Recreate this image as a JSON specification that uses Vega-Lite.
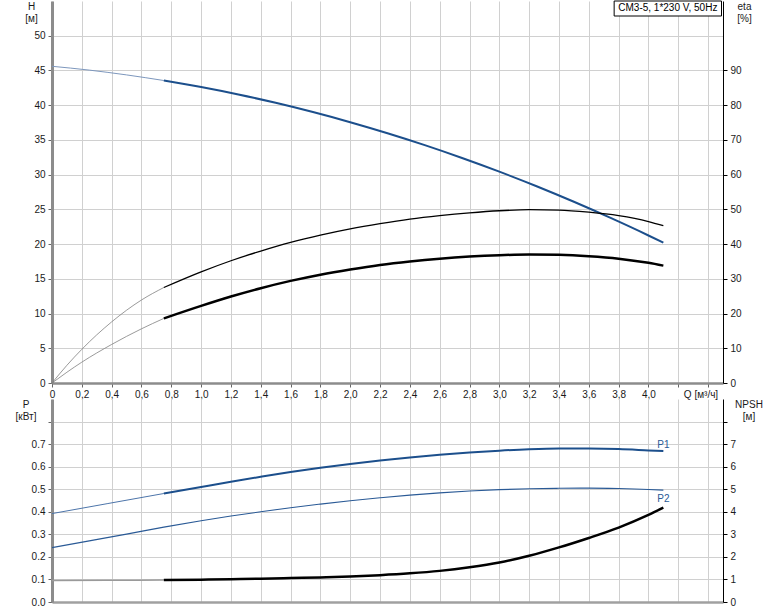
{
  "$schema": "https://vega.github.io/schema/vega-lite/v6.json",
  "autosize": {"type": "pad"},
  "padding": {"left": 15, "top": 0, "right": 5, "bottom": 5},
  "background": "white",
  "spacing": 0,
  "config": {
    "view": {"stroke": null},
    "axis": {
      "labelFont": "Liberation Sans",
      "labelFontSize": 10,
      "labelColor": "#1a1a1a",
      "titleFont": "Liberation Sans",
      "titleFontSize": 10,
      "titleFontWeight": "normal",
      "titleColor": "#1a1a1a",
      "gridColor": "#d0d0d0",
      "gridWidth": 1
    }
  },
  "datasets": {
    "top": [
      {"curve": "H", "part": "outside", "Q": 0, "value": 45.6},
      {"curve": "H", "part": "outside", "Q": 0.25, "value": 45.05},
      {"curve": "H", "part": "outside", "Q": 0.5, "value": 44.36},
      {"curve": "H", "part": "outside", "Q": 0.75, "value": 43.55},
      {"curve": "H", "part": "duty", "Q": 0.75, "value": 43.55},
      {"curve": "H", "part": "duty", "Q": 1.0, "value": 42.61},
      {"curve": "H", "part": "duty", "Q": 1.25, "value": 41.54},
      {"curve": "H", "part": "duty", "Q": 1.5, "value": 40.34},
      {"curve": "H", "part": "duty", "Q": 1.75, "value": 39.01},
      {"curve": "H", "part": "duty", "Q": 2.0, "value": 37.55},
      {"curve": "H", "part": "duty", "Q": 2.25, "value": 35.96},
      {"curve": "H", "part": "duty", "Q": 2.5, "value": 34.25},
      {"curve": "H", "part": "duty", "Q": 2.75, "value": 32.4},
      {"curve": "H", "part": "duty", "Q": 3.0, "value": 30.43},
      {"curve": "H", "part": "duty", "Q": 3.25, "value": 28.33},
      {"curve": "H", "part": "duty", "Q": 3.5, "value": 26.09},
      {"curve": "H", "part": "duty", "Q": 3.75, "value": 23.73},
      {"curve": "H", "part": "duty", "Q": 4.0, "value": 21.24},
      {"curve": "H", "part": "duty", "Q": 4.1, "value": 20.2},
      {"curve": "eta", "part": "outside", "Q": 0, "value": 0},
      {"curve": "eta", "part": "outside", "Q": 0.1, "value": 5.1},
      {"curve": "eta", "part": "outside", "Q": 0.2, "value": 9.7},
      {"curve": "eta", "part": "outside", "Q": 0.4, "value": 17.6},
      {"curve": "eta", "part": "outside", "Q": 0.6, "value": 23.9},
      {"curve": "eta", "part": "outside", "Q": 0.75, "value": 27.5},
      {"curve": "eta", "part": "duty", "Q": 0.75, "value": 27.5},
      {"curve": "eta", "part": "duty", "Q": 1.0, "value": 32.0},
      {"curve": "eta", "part": "duty", "Q": 1.2, "value": 35.2},
      {"curve": "eta", "part": "duty", "Q": 1.4, "value": 38.0},
      {"curve": "eta", "part": "duty", "Q": 1.6, "value": 40.5},
      {"curve": "eta", "part": "duty", "Q": 1.8, "value": 42.6},
      {"curve": "eta", "part": "duty", "Q": 2.0, "value": 44.4},
      {"curve": "eta", "part": "duty", "Q": 2.2, "value": 45.9},
      {"curve": "eta", "part": "duty", "Q": 2.4, "value": 47.2},
      {"curve": "eta", "part": "duty", "Q": 2.6, "value": 48.2},
      {"curve": "eta", "part": "duty", "Q": 2.8, "value": 49.0},
      {"curve": "eta", "part": "duty", "Q": 3.0, "value": 49.6},
      {"curve": "eta", "part": "duty", "Q": 3.2, "value": 49.9},
      {"curve": "eta", "part": "duty", "Q": 3.4, "value": 49.8},
      {"curve": "eta", "part": "duty", "Q": 3.6, "value": 49.2},
      {"curve": "eta", "part": "duty", "Q": 3.8, "value": 48.2},
      {"curve": "eta", "part": "duty", "Q": 4.0, "value": 46.5},
      {"curve": "eta", "part": "duty", "Q": 4.1, "value": 45.3},
      {"curve": "etaTotal", "part": "outside", "Q": 0, "value": 0},
      {"curve": "etaTotal", "part": "outside", "Q": 0.1, "value": 3.1},
      {"curve": "etaTotal", "part": "outside", "Q": 0.2, "value": 6.0},
      {"curve": "etaTotal", "part": "outside", "Q": 0.4, "value": 11.1},
      {"curve": "etaTotal", "part": "outside", "Q": 0.6, "value": 15.6},
      {"curve": "etaTotal", "part": "outside", "Q": 0.75, "value": 18.6},
      {"curve": "etaTotal", "part": "duty", "Q": 0.75, "value": 18.6},
      {"curve": "etaTotal", "part": "duty", "Q": 1.0, "value": 22.2},
      {"curve": "etaTotal", "part": "duty", "Q": 1.2, "value": 24.9},
      {"curve": "etaTotal", "part": "duty", "Q": 1.4, "value": 27.3},
      {"curve": "etaTotal", "part": "duty", "Q": 1.6, "value": 29.4},
      {"curve": "etaTotal", "part": "duty", "Q": 1.8, "value": 31.2},
      {"curve": "etaTotal", "part": "duty", "Q": 2.0, "value": 32.7},
      {"curve": "etaTotal", "part": "duty", "Q": 2.2, "value": 34.0},
      {"curve": "etaTotal", "part": "duty", "Q": 2.4, "value": 35.0},
      {"curve": "etaTotal", "part": "duty", "Q": 2.6, "value": 35.8},
      {"curve": "etaTotal", "part": "duty", "Q": 2.8, "value": 36.4},
      {"curve": "etaTotal", "part": "duty", "Q": 3.0, "value": 36.8},
      {"curve": "etaTotal", "part": "duty", "Q": 3.2, "value": 37.0},
      {"curve": "etaTotal", "part": "duty", "Q": 3.4, "value": 36.9},
      {"curve": "etaTotal", "part": "duty", "Q": 3.6, "value": 36.5},
      {"curve": "etaTotal", "part": "duty", "Q": 3.8, "value": 35.8},
      {"curve": "etaTotal", "part": "duty", "Q": 4.0, "value": 34.6},
      {"curve": "etaTotal", "part": "duty", "Q": 4.1, "value": 33.8}
    ],
    "bottom": [
      {"curve": "P1", "part": "outside", "Q": 0, "value": 0.392},
      {"curve": "P1", "part": "outside", "Q": 0.375, "value": 0.4365},
      {"curve": "P1", "part": "outside", "Q": 0.75, "value": 0.481},
      {"curve": "P1", "part": "duty", "Q": 0.75, "value": 0.481},
      {"curve": "P1", "part": "duty", "Q": 1.0, "value": 0.51},
      {"curve": "P1", "part": "duty", "Q": 1.2, "value": 0.533},
      {"curve": "P1", "part": "duty", "Q": 1.4, "value": 0.555},
      {"curve": "P1", "part": "duty", "Q": 1.6, "value": 0.576},
      {"curve": "P1", "part": "duty", "Q": 1.8, "value": 0.595},
      {"curve": "P1", "part": "duty", "Q": 2.0, "value": 0.612},
      {"curve": "P1", "part": "duty", "Q": 2.2, "value": 0.627},
      {"curve": "P1", "part": "duty", "Q": 2.4, "value": 0.641},
      {"curve": "P1", "part": "duty", "Q": 2.6, "value": 0.653},
      {"curve": "P1", "part": "duty", "Q": 2.8, "value": 0.663},
      {"curve": "P1", "part": "duty", "Q": 3.0, "value": 0.671},
      {"curve": "P1", "part": "duty", "Q": 3.2, "value": 0.677},
      {"curve": "P1", "part": "duty", "Q": 3.4, "value": 0.68},
      {"curve": "P1", "part": "duty", "Q": 3.6, "value": 0.68},
      {"curve": "P1", "part": "duty", "Q": 3.8, "value": 0.678},
      {"curve": "P1", "part": "duty", "Q": 4.0, "value": 0.672},
      {"curve": "P1", "part": "duty", "Q": 4.1, "value": 0.669},
      {"curve": "P2", "part": "all", "Q": 0, "value": 0.241},
      {"curve": "P2", "part": "all", "Q": 0.25, "value": 0.271},
      {"curve": "P2", "part": "all", "Q": 0.5, "value": 0.301},
      {"curve": "P2", "part": "all", "Q": 0.75, "value": 0.332},
      {"curve": "P2", "part": "all", "Q": 1.0, "value": 0.36},
      {"curve": "P2", "part": "all", "Q": 1.2, "value": 0.381},
      {"curve": "P2", "part": "all", "Q": 1.4, "value": 0.4},
      {"curve": "P2", "part": "all", "Q": 1.6, "value": 0.418},
      {"curve": "P2", "part": "all", "Q": 1.8, "value": 0.434},
      {"curve": "P2", "part": "all", "Q": 2.0, "value": 0.449},
      {"curve": "P2", "part": "all", "Q": 2.2, "value": 0.462},
      {"curve": "P2", "part": "all", "Q": 2.4, "value": 0.474},
      {"curve": "P2", "part": "all", "Q": 2.6, "value": 0.484},
      {"curve": "P2", "part": "all", "Q": 2.8, "value": 0.492},
      {"curve": "P2", "part": "all", "Q": 3.0, "value": 0.498},
      {"curve": "P2", "part": "all", "Q": 3.2, "value": 0.502},
      {"curve": "P2", "part": "all", "Q": 3.4, "value": 0.504},
      {"curve": "P2", "part": "all", "Q": 3.6, "value": 0.505},
      {"curve": "P2", "part": "all", "Q": 3.8, "value": 0.503},
      {"curve": "P2", "part": "all", "Q": 4.0, "value": 0.499},
      {"curve": "P2", "part": "all", "Q": 4.1, "value": 0.496},
      {"curve": "NPSH", "part": "outside", "Q": 0, "value": 0.95},
      {"curve": "NPSH", "part": "outside", "Q": 0.375, "value": 0.96},
      {"curve": "NPSH", "part": "outside", "Q": 0.75, "value": 0.97},
      {"curve": "NPSH", "part": "duty", "Q": 0.75, "value": 0.97},
      {"curve": "NPSH", "part": "duty", "Q": 1.0, "value": 0.99},
      {"curve": "NPSH", "part": "duty", "Q": 1.2, "value": 1.01},
      {"curve": "NPSH", "part": "duty", "Q": 1.4, "value": 1.03},
      {"curve": "NPSH", "part": "duty", "Q": 1.6, "value": 1.06},
      {"curve": "NPSH", "part": "duty", "Q": 1.8, "value": 1.09},
      {"curve": "NPSH", "part": "duty", "Q": 2.0, "value": 1.13},
      {"curve": "NPSH", "part": "duty", "Q": 2.2, "value": 1.19},
      {"curve": "NPSH", "part": "duty", "Q": 2.4, "value": 1.27},
      {"curve": "NPSH", "part": "duty", "Q": 2.6, "value": 1.38},
      {"curve": "NPSH", "part": "duty", "Q": 2.8, "value": 1.54},
      {"curve": "NPSH", "part": "duty", "Q": 3.0, "value": 1.75},
      {"curve": "NPSH", "part": "duty", "Q": 3.2, "value": 2.05},
      {"curve": "NPSH", "part": "duty", "Q": 3.4, "value": 2.42},
      {"curve": "NPSH", "part": "duty", "Q": 3.6, "value": 2.84},
      {"curve": "NPSH", "part": "duty", "Q": 3.8, "value": 3.3},
      {"curve": "NPSH", "part": "duty", "Q": 4.0, "value": 3.86},
      {"curve": "NPSH", "part": "duty", "Q": 4.1, "value": 4.18}
    ],
    "notes": [
      {"label": "CM3-5, 1*230 V, 50Hz", "Qstart": 3.77, "Qend": 4.49, "Hlow": 52.84, "Hhigh": 55, "Qmid": 4.13, "Hmid": 53.95}
    ],
    "plabels": [
      {"label": "P1", "Q": 4.1, "value": 0.669},
      {"label": "P2", "Q": 4.1, "value": 0.496}
    ]
  },
  "vconcat": [
    {
      "width": 671,
      "height": 382,
      "encoding": {
        "x": {
          "field": "Q", "type": "quantitative",
          "scale": {"domain": [0, 4.5], "nice": false},
          "axis": {
            "orient": "bottom",
            "values": [0, 0.2, 0.4, 0.6, 0.8, 1, 1.2, 1.4, 1.6, 1.8, 2, 2.2, 2.4, 2.6, 2.8, 3, 3.2, 3.4, 3.6, 3.8, 4, 4.2, 4.4],
            "labelExpr": "datum.value > 4.1 ? '' : (datum.value == 0 ? '0' : replace(format(datum.value, '.1f'), '.', ','))",
            "labelFlush": false,
            "labelOverlap": false,
            "labelPadding": 2,
            "grid": true,
            "domainColor": "#8c8c8c",
            "domainWidth": 2.5,
            "tickColor": "#666666",
            "tickSize": 4,
            "title": "Q [м³/ч]",
            "titleAngle": 0,
            "titleAlign": "center",
            "titleBaseline": "alphabetic",
            "titleX": 648.5,
            "titleY": 14
          }
        }
      },
      "layer": [
        {
          "data": {"name": "top"},
          "transform": [{"filter": "datum.curve === 'H' && datum.part === 'outside'"}],
          "mark": {"type": "line", "interpolate": "monotone", "color": "#7d97bd", "strokeWidth": 1},
          "encoding": {
            "y": {
              "field": "value", "type": "quantitative",
              "scale": {"domain": [0, 55], "nice": false},
              "axis": {
                "orient": "left",
                "values": [0, 5, 10, 15, 20, 25, 30, 35, 40, 45, 50],
                "grid": true,
                "domainColor": "#8c8c8c",
                "domainWidth": 3,
                "tickColor": "#666666",
                "tickSize": 4,
                "labelPadding": 3,
                "title": ["H", "[м]"],
                "titleAngle": 0,
                "titleAlign": "center",
                "titleBaseline": "alphabetic",
                "titleLineHeight": 12,
                "titleX": -21,
                "titleY": 8
              }
            }
          }
        },
        {
          "data": {"name": "top"},
          "transform": [{"filter": "datum.curve === 'H' && datum.part === 'duty'"}],
          "mark": {"type": "line", "interpolate": "monotone", "color": "#1c4f8c", "strokeWidth": 2},
          "encoding": {
            "y": {"field": "value", "type": "quantitative", "scale": {"domain": [0, 55], "nice": false}, "axis": null}
          }
        },
        {
          "data": {"name": "notes"},
          "mark": {"type": "rect", "fill": "white", "stroke": "#000000", "strokeWidth": 1},
          "encoding": {
            "x": {"field": "Qstart", "type": "quantitative"},
            "x2": {"field": "Qend"},
            "y": {"field": "Hlow", "type": "quantitative", "scale": {"domain": [0, 55], "nice": false}, "axis": null},
            "y2": {"field": "Hhigh"}
          }
        },
        {
          "data": {"name": "notes"},
          "mark": {"type": "text", "font": "Liberation Sans", "fontSize": 10, "color": "#000000", "align": "center", "baseline": "middle"},
          "encoding": {
            "x": {"field": "Qmid", "type": "quantitative"},
            "y": {"field": "Hmid", "type": "quantitative", "scale": {"domain": [0, 55], "nice": false}, "axis": null},
            "text": {"field": "label"}
          }
        },
        {
          "data": {"name": "top"},
          "transform": [{"filter": "datum.curve === 'eta' && datum.part === 'outside'"}],
          "mark": {"type": "line", "interpolate": "monotone", "color": "#808080", "strokeWidth": 0.8},
          "encoding": {
            "y": {
              "field": "value", "type": "quantitative",
              "scale": {"domain": [0, 110], "nice": false},
              "axis": {
                "orient": "right",
                "values": [0, 10, 20, 30, 40, 50, 60, 70, 80, 90],
                "grid": false,
                "domainColor": "#000000",
                "domainWidth": 1,
                "tickColor": "#000000",
                "tickSize": 4,
                "labelPadding": 3,
                "title": ["eta", "[%]"],
                "titleAngle": 0,
                "titleAlign": "center",
                "titleBaseline": "alphabetic",
                "titleLineHeight": 12,
                "titleX": 21,
                "titleY": 8
              }
            }
          }
        },
        {
          "data": {"name": "top"},
          "transform": [{"filter": "datum.curve === 'eta' && datum.part === 'duty'"}],
          "mark": {"type": "line", "interpolate": "monotone", "color": "#000000", "strokeWidth": 1.3},
          "encoding": {
            "y": {"field": "value", "type": "quantitative", "scale": {"domain": [0, 110], "nice": false}, "axis": null}
          }
        },
        {
          "data": {"name": "top"},
          "transform": [{"filter": "datum.curve === 'etaTotal' && datum.part === 'outside'"}],
          "mark": {"type": "line", "interpolate": "monotone", "color": "#808080", "strokeWidth": 0.8},
          "encoding": {
            "y": {"field": "value", "type": "quantitative", "scale": {"domain": [0, 110], "nice": false}, "axis": null}
          }
        },
        {
          "data": {"name": "top"},
          "transform": [{"filter": "datum.curve === 'etaTotal' && datum.part === 'duty'"}],
          "mark": {"type": "line", "interpolate": "monotone", "color": "#000000", "strokeWidth": 2.5},
          "encoding": {
            "y": {"field": "value", "type": "quantitative", "scale": {"domain": [0, 110], "nice": false}, "axis": null}
          }
        }
      ],
      "resolve": {"scale": {"y": "independent"}}
    },
    {
      "width": 671,
      "height": 203,
      "encoding": {
        "x": {
          "field": "Q", "type": "quantitative",
          "scale": {"domain": [0, 4.5], "nice": false},
          "axis": {
            "orient": "bottom",
            "values": [0, 0.2, 0.4, 0.6, 0.8, 1, 1.2, 1.4, 1.6, 1.8, 2, 2.2, 2.4, 2.6, 2.8, 3, 3.2, 3.4, 3.6, 3.8, 4, 4.2, 4.4],
            "labels": false,
            "ticks": false,
            "grid": true,
            "domainColor": "#a0a0a0",
            "domainWidth": 2.5,
            "title": null
          }
        }
      },
      "layer": [
        {
          "data": {"name": "bottom"},
          "transform": [{"filter": "datum.curve === 'P1' && datum.part === 'outside'"}],
          "mark": {"type": "line", "interpolate": "monotone", "color": "#4d75aa", "strokeWidth": 1},
          "encoding": {
            "y": {
              "field": "value", "type": "quantitative",
              "scale": {"domain": [0, 0.9], "nice": false},
              "axis": {
                "orient": "left",
                "values": [0, 0.1, 0.2, 0.3, 0.4, 0.5, 0.6, 0.7, 0.8],
                "labelExpr": "datum.value > 0.75 ? '' : format(datum.value, '.1f')",
                "grid": true,
                "domainColor": "#8c8c8c",
                "domainWidth": 3,
                "tickColor": "#666666",
                "tickSize": 4,
                "labelPadding": 3,
                "title": ["P", "[кВт]"],
                "titleAngle": 0,
                "titleAlign": "center",
                "titleBaseline": "alphabetic",
                "titleLineHeight": 12,
                "titleX": -26.5,
                "titleY": 8
              }
            }
          }
        },
        {
          "data": {"name": "bottom"},
          "transform": [{"filter": "datum.curve === 'P1' && datum.part === 'duty'"}],
          "mark": {"type": "line", "interpolate": "monotone", "color": "#1c4f8c", "strokeWidth": 2},
          "encoding": {
            "y": {"field": "value", "type": "quantitative", "scale": {"domain": [0, 0.9], "nice": false}, "axis": null}
          }
        },
        {
          "data": {"name": "bottom"},
          "transform": [{"filter": "datum.curve === 'P2'"}],
          "mark": {"type": "line", "interpolate": "monotone", "color": "#2a5a96", "strokeWidth": 1.1},
          "encoding": {
            "y": {"field": "value", "type": "quantitative", "scale": {"domain": [0, 0.9], "nice": false}, "axis": null}
          }
        },
        {
          "data": {"name": "plabels"},
          "transform": [{"filter": "datum.label === 'P1'"}],
          "mark": {"type": "text", "font": "Liberation Sans", "fontSize": 10, "color": "#2a5a96", "align": "center", "baseline": "alphabetic", "dy": -3},
          "encoding": {
            "y": {"field": "value", "type": "quantitative", "scale": {"domain": [0, 0.9], "nice": false}, "axis": null},
            "text": {"field": "label"}
          }
        },
        {
          "data": {"name": "plabels"},
          "transform": [{"filter": "datum.label === 'P2'"}],
          "mark": {"type": "text", "font": "Liberation Sans", "fontSize": 10, "color": "#2a5a96", "align": "center", "baseline": "alphabetic", "dy": 11.5},
          "encoding": {
            "y": {"field": "value", "type": "quantitative", "scale": {"domain": [0, 0.9], "nice": false}, "axis": null},
            "text": {"field": "label"}
          }
        },
        {
          "data": {"name": "bottom"},
          "transform": [{"filter": "datum.curve === 'NPSH' && datum.part === 'outside'"}],
          "mark": {"type": "line", "interpolate": "monotone", "color": "#9a9a9a", "strokeWidth": 1.5},
          "encoding": {
            "y": {
              "field": "value", "type": "quantitative",
              "scale": {"domain": [0, 9], "nice": false},
              "axis": {
                "orient": "right",
                "values": [0, 1, 2, 3, 4, 5, 6, 7, 8],
                "labelExpr": "datum.value > 7.5 ? '' : format(datum.value, 'd')",
                "grid": false,
                "domainColor": "#000000",
                "domainWidth": 1,
                "tickColor": "#000000",
                "tickSize": 4,
                "labelPadding": 3,
                "title": ["NPSH", "[м]"],
                "titleAngle": 0,
                "titleAlign": "center",
                "titleBaseline": "alphabetic",
                "titleLineHeight": 12,
                "titleX": 25.5,
                "titleY": 8
              }
            }
          }
        },
        {
          "data": {"name": "bottom"},
          "transform": [{"filter": "datum.curve === 'NPSH' && datum.part === 'duty'"}],
          "mark": {"type": "line", "interpolate": "monotone", "color": "#000000", "strokeWidth": 2.5},
          "encoding": {
            "y": {"field": "value", "type": "quantitative", "scale": {"domain": [0, 9], "nice": false}, "axis": null}
          }
        },
        {
          "data": {"values": [{}]},
          "mark": {"type": "rule", "color": "#a0a0a0", "strokeWidth": 2.5},
          "encoding": {
            "x": {"datum": 0, "type": "quantitative"},
            "x2": {"datum": 4.5},
            "y": {"datum": 0.9, "type": "quantitative", "scale": {"domain": [0, 0.9], "nice": false}, "axis": null}
          }
        }
      ],
      "resolve": {"scale": {"y": "independent"}}
    }
  ]
}
